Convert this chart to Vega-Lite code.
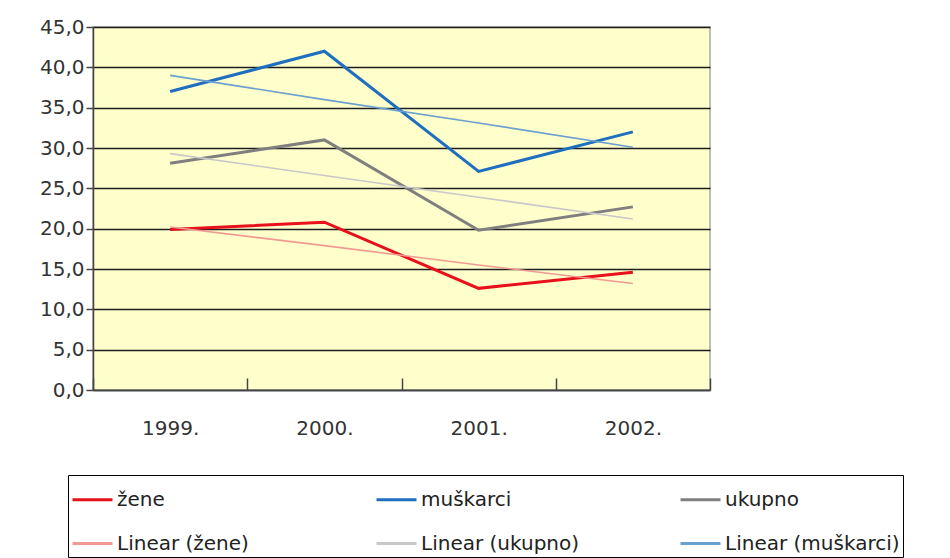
{
  "$schema": "https://vega.github.io/schema/vega-lite/v6.json",
  "width": 617,
  "height": 363,
  "autosize": "none",
  "padding": {"left": 93, "top": 27, "right": 240, "bottom": 168},
  "background": "white",
  "config": {
    "font": "DejaVu Sans",
    "view": {"fill": "#FFFFCC", "stroke": "#a8a8a8", "strokeWidth": 1.5}
  },
  "data": {
    "values": [
      {"year": "1999.", "series": "žene", "value": 19.9},
      {"year": "2000.", "series": "žene", "value": 20.8},
      {"year": "2001.", "series": "žene", "value": 12.6},
      {"year": "2002.", "series": "žene", "value": 14.6},
      {"year": "1999.", "series": "muškarci", "value": 37.0},
      {"year": "2000.", "series": "muškarci", "value": 42.0},
      {"year": "2001.", "series": "muškarci", "value": 27.1},
      {"year": "2002.", "series": "muškarci", "value": 32.0},
      {"year": "1999.", "series": "ukupno", "value": 28.1},
      {"year": "2000.", "series": "ukupno", "value": 31.0},
      {"year": "2001.", "series": "ukupno", "value": 19.8},
      {"year": "2002.", "series": "ukupno", "value": 22.7},
      {"year": "1999.", "series": "Linear (žene)", "value": 20.2},
      {"year": "2000.", "series": "Linear (žene)", "value": 17.9},
      {"year": "2001.", "series": "Linear (žene)", "value": 15.5},
      {"year": "2002.", "series": "Linear (žene)", "value": 13.2},
      {"year": "1999.", "series": "Linear (ukupno)", "value": 29.3},
      {"year": "2000.", "series": "Linear (ukupno)", "value": 26.6},
      {"year": "2001.", "series": "Linear (ukupno)", "value": 23.9},
      {"year": "2002.", "series": "Linear (ukupno)", "value": 21.2},
      {"year": "1999.", "series": "Linear (muškarci)", "value": 39.0},
      {"year": "2000.", "series": "Linear (muškarci)", "value": 36.0},
      {"year": "2001.", "series": "Linear (muškarci)", "value": 33.1},
      {"year": "2002.", "series": "Linear (muškarci)", "value": 30.1}
    ]
  },
  "encoding": {
    "x": {
      "field": "year",
      "type": "ordinal",
      "bandPosition": 0.5,
      "scale": {"type": "band", "paddingInner": 0, "paddingOuter": 0},
      "axis": {
        "title": null,
        "labelAngle": 0,
        "tickBand": "extent",
        "tickSize": -12,
        "tickColor": "#444",
        "tickWidth": 1.5,
        "domainColor": "#444",
        "domainWidth": 1.5,
        "labelFontSize": 20,
        "labelColor": "#333",
        "labelPadding": 40,
        "grid": false
      }
    },
    "y": {
      "field": "value",
      "type": "quantitative",
      "scale": {"domain": [0, 45], "nice": false},
      "axis": {
        "title": null,
        "values": [0, 5, 10, 15, 20, 25, 30, 35, 40, 45],
        "labelExpr": "replace(format(datum.value, '.1f'), '.', ',')",
        "grid": true,
        "gridColor": "#1e1e1e",
        "gridWidth": 1.6,
        "domainColor": "#444",
        "domainWidth": 1.5,
        "tickColor": "#444",
        "tickSize": 7,
        "tickWidth": 1.5,
        "labelPadding": 2,
        "labelFontSize": 20,
        "labelColor": "#333"
      }
    },
    "color": {
      "field": "series",
      "type": "nominal",
      "scale": {
        "domain": ["žene", "Linear (žene)", "muškarci", "Linear (ukupno)", "ukupno", "Linear (muškarci)"],
        "range": ["#e8101a", "#f19a92", "#1f6fc0", "#c8c8c8", "#7f7f7f", "#6a9fd0"]
      },
      "legend": {
        "title": null,
        "orient": "none",
        "legendX": -25,
        "legendY": 448,
        "columns": 3,
        "gridAlign": "all",
        "columnPadding": 78,
        "rowPadding": 12,
        "padding": 3,
        "strokeColor": "#000",
        "fillColor": "white",
        "symbolType": "stroke",
        "symbolSize": 1600,
        "symbolStrokeWidth": 3,
        "labelFontSize": 20,
        "labelOffset": 3,
        "labelColor": "#222",
        "labelLimit": 300
      }
    }
  },
  "layer": [
    {
      "transform": [{"filter": "indexof(datum.series, 'Linear') < 0"}],
      "mark": {"type": "line", "strokeWidth": 3}
    },
    {
      "transform": [{"filter": "indexof(datum.series, 'Linear') >= 0"}],
      "mark": {"type": "line", "strokeWidth": 1.6}
    }
  ]
}
